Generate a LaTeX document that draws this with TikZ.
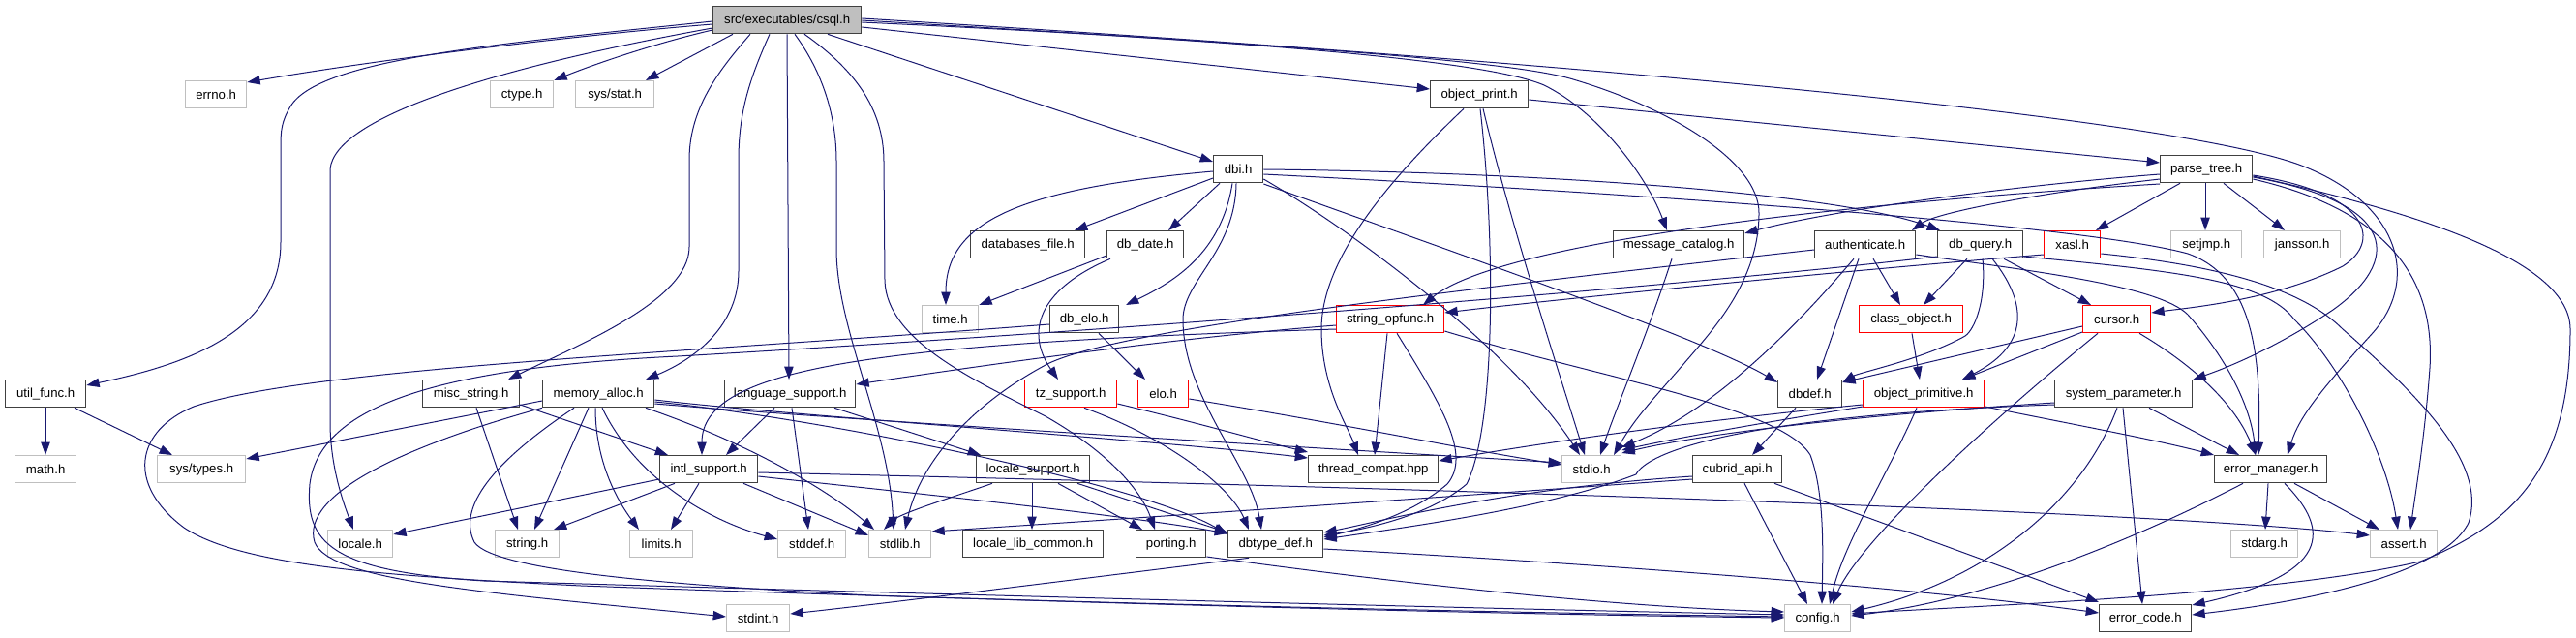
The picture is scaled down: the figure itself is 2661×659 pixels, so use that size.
\documentclass[tikz,border=0pt]{standalone}
\usepackage{fontspec}
\setmainfont{Liberation Sans}
\usetikzlibrary{arrows.meta}
\definecolor{navy}{HTML}{191970}
\definecolor{bd}{HTML}{404040}
\definecolor{gb}{HTML}{BFBFBF}
\definecolor{rb}{HTML}{FF0000}
\newcommand\nd[6]{\node[#1,minimum width={(#5-#4)*0.75pt}] (#2) at (#4,#3) {#6};}
\tikzset{
  box/.style={draw=bd, line width=1pt, inner sep=0pt, minimum height=21pt, anchor=north west, font=\fontsize{9.9}{11}\selectfont},
  bbox/.style={box},
  gbox/.style={box, draw=gb},
  rbox/.style={box, draw=rb},
  cbox/.style={box, fill=gb},
  e/.style={draw=navy, line width=0.75pt, -{Triangle[length=10pt,width=7pt]}}
}
\begin{document}
\begin{tikzpicture}[x=0.75pt,y=-0.75pt]
\useasboundingbox (0,0) rectangle (2661,659);
% row 1
\nd{cbox}{csql}{6}{736}{889}{src/executables/csql.h}
% row 2
\nd{gbox}{errno}{83}{191}{254}{errno.h}
\nd{gbox}{ctype}{83}{506}{571}{ctype.h}
\nd{gbox}{sysstat}{83}{594}{675}{sys/stat.h}
\nd{bbox}{objprint}{83}{1477}{1578}{object\_print.h}
% row 3
\nd{bbox}{dbi}{160}{1253}{1304}{dbi.h}
\nd{bbox}{parsetree}{160}{2231}{2326}{parse\_tree.h}
% row 4
\nd{bbox}{dbfile}{238}{1002}{1120}{databases\_file.h}
\nd{bbox}{dbdate}{238}{1143}{1222}{db\_date.h}
\nd{bbox}{msgcat}{238}{1666}{1801}{message\_catalog.h}
\nd{bbox}{auth}{238}{1874}{1978}{authenticate.h}
\nd{bbox}{dbquery}{238}{2001}{2089}{db\_query.h}
\nd{rbox}{xasl}{238}{2111}{2169}{xasl.h}
\nd{gbox}{setjmp}{238}{2242}{2315}{setjmp.h}
\nd{gbox}{jansson}{238}{2338}{2417}{jansson.h}
% row 5
\nd{gbox}{time}{315}{952}{1010}{time.h}
\nd{bbox}{dbelo}{315}{1084}{1155}{db\_elo.h}
\nd{rbox}{stropfunc}{315}{1380}{1491}{string\_opfunc.h}
\nd{rbox}{classobj}{315}{1920}{2027}{class\_object.h}
\nd{rbox}{cursor}{315}{2151}{2221}{cursor.h}
% row 6
\nd{bbox}{utilfunc}{392}{5}{88}{util\_func.h}
\nd{bbox}{miscstr}{392}{436}{536}{misc\_string.h}
\nd{bbox}{memalloc}{392}{560}{675}{memory\_alloc.h}
\nd{bbox}{langsup}{392}{748}{883}{language\_support.h}
\nd{rbox}{tzsup}{392}{1058}{1153}{tz\_support.h}
\nd{rbox}{elo}{392}{1175}{1227}{elo.h}
\nd{bbox}{dbdef}{392}{1836}{1902}{dbdef.h}
\nd{rbox}{objprim}{392}{1924}{2049}{object\_primitive.h}
\nd{bbox}{syspar}{392}{2122}{2264}{system\_parameter.h}
% row 7
\nd{gbox}{math}{470}{15}{78}{math.h}
\nd{gbox}{systypes}{470}{162}{253}{sys/types.h}
\nd{bbox}{intlsup}{470}{681}{782}{intl\_support.h}
\nd{bbox}{localesup}{470}{1008}{1125}{locale\_support.h}
\nd{bbox}{threadc}{470}{1351}{1485}{thread\_compat.hpp}
\nd{gbox}{stdio}{470}{1613}{1674}{stdio.h}
\nd{bbox}{cubridapi}{470}{1748}{1840}{cubrid\_api.h}
\nd{bbox}{errmgr}{470}{2287}{2403}{error\_manager.h}
% row 8
\nd{gbox}{localeh}{547}{338}{405}{locale.h}
\nd{gbox}{string}{547}{511}{577}{string.h}
\nd{gbox}{limits}{547}{650}{715}{limits.h}
\nd{gbox}{stddef}{547}{803}{873}{stddef.h}
\nd{gbox}{stdlib}{547}{897}{961}{stdlib.h}
\nd{bbox}{localelib}{547}{994}{1139}{locale\_lib\_common.h}
\nd{bbox}{porting}{547}{1173}{1245}{porting.h}
\nd{bbox}{dbtype}{547}{1268}{1366}{dbtype\_def.h}
\nd{gbox}{stdarg}{547}{2304}{2373}{stdarg.h}
\nd{gbox}{assert}{547}{2448}{2517}{assert.h}
% row 9
\nd{gbox}{stdint}{624}{750}{815}{stdint.h}
\nd{gbox}{config}{624}{1843}{1911}{config.h}
\nd{bbox}{errcode}{624}{2168}{2263}{error\_code.h}

% ---------- edges from csql
\draw[e] (csql.west |- 0,25) .. controls (600,36) and (400,60) .. (errno.east |- 0,85);
\draw[e] (csql.west |- 0,31) .. controls (680,44) and (620,64) .. (ctype.north east);
\draw[e] (csql.south -| 757,0) -- (sysstat.north -| 667,0);
\draw[e] (csql.west |- 0,22) .. controls (520,45) and (330,60) .. (300,110) .. controls (291,125) and (290,135) .. (290,150) -- (290,250) .. controls (290,340) and (200,375) .. (utilfunc.east |- 0,398);
\draw[e] (csql.west |- 0,29) .. controls (520,68) and (345,120) .. (341,175) -- (341,440) .. controls (342,485) and (355,520) .. (localeh.north -| 365,0);
\draw[e] (csql.south -| 775,0) .. controls (745,70) and (712,110) .. (712,165) -- (712,255) .. controls (712,310) and (600,355) .. (miscstr.north -| 525,0);
\draw[e] (csql.south -| 795,0) .. controls (775,80) and (763,115) .. (763,165) -- (763,280) .. controls (763,335) and (720,370) .. (memalloc.north -| 667,0);
\draw[e] (csql.south -| 813,0) -- (langsup.north -| 815,0);
\draw[e] (csql.south -| 821,0) .. controls (850,75) and (864,120) .. (864,167) -- (864,257) .. controls (864,340) and (918,440) .. (stdlib.north -| 923,0);
\draw[e] (csql.south -| 831,0) .. controls (880,70) and (913,110) .. (913,167) -- (914,290) .. controls (916,350) and (1000,390) .. (1080,430) .. controls (1150,470) and (1180,510) .. (porting.north -| 1193,0);
\draw[e] (csql.south -| 855,0) -- (dbi.west |- 0,167);
\draw[e] (csql.east |- 0,28) -- (objprint.west |- 0,92);
\draw[e] (csql.east |- 0,23) .. controls (1250,40) and (1530,60) .. (1595,88) .. controls (1650,115) and (1700,180) .. (msgcat.north -| 1722,0);
\draw[e] (csql.east |- 0,21) .. controls (1300,45) and (1560,62) .. (1625,82) .. controls (1720,110) and (1817,165) .. (1817,220) .. controls (1817,290) and (1770,340) .. (1740,375) .. controls (1710,410) and (1690,430) .. (stdio.north -| 1667,0);
\draw[e] (csql.east |- 0,19) .. controls (1600,62) and (2250,120) .. (2380,172) .. controls (2480,212) and (2500,290) .. (2450,345) .. controls (2400,400) and (2375,430) .. (errmgr.north -| 2363,0);
% ---------- object_print
\draw[e] (objprint.east |- 0,103) -- (parsetree.west |- 0,168);
\draw[e] (objprint.south -| 1512,0) .. controls (1430,190) and (1365,270) .. (1365,340) .. controls (1365,400) and (1392,440) .. (threadc.north -| 1403,0);
\draw[e] (objprint.south -| 1532,0) .. controls (1560,230) and (1612,390) .. (stdio.north -| 1637,0);
\draw[e] (objprint.south -| 1529,0) .. controls (1545,250) and (1545,440) .. (1515,500) .. controls (1480,530) and (1420,545) .. (dbtype.east |- 0,553);
% ---------- dbi
\draw[e] (dbi.west |- 0,177) .. controls (1050,195) and (977,230) .. (time.north -| 977,0);
\draw[e] (dbi.west |- 0,184) -- (dbfile.north -| 1110,0);
\draw[e] (dbi.south -| 1260,0) -- (dbdate.north -| 1207,0);
\draw[e] (dbi.south -| 1273,0) .. controls (1262,260) and (1215,290) .. (dbelo.north -| 1163,0);
\draw[e] (dbi.south -| 1277,0) .. controls (1276,260) and (1222,290) .. (1222,330) .. controls (1222,410) and (1292,480) .. (dbtype.north -| 1303,0);
\draw[e] (dbi.east |- 0,185) .. controls (1400,240) and (1560,360) .. (stdio.north -| 1632,0);
\draw[e] (dbi.east |- 0,190) .. controls (1500,260) and (1760,350) .. (dbdef.west |- 0,395);
\draw[e] (dbi.east |- 0,175) .. controls (1600,178) and (1900,200) .. (dbquery.north -| 2004,0);
\draw[e] (dbi.east |- 0,180) .. controls (1700,200) and (2150,232) .. (2260,262) .. controls (2325,285) and (2336,360) .. (errmgr.north -| 2333,0);
% ---------- db_date, db_elo
\draw[e] (dbdate.west |- 0,264) -- (time.north east);
\draw[e] (dbdate.south -| 1147,0) .. controls (1070,300) and (1060,345) .. (tzsup.north -| 1093,0);
\draw[e] (dbelo.south -| 1135,0) -- (elo.north -| 1183,0);
\draw[e] (dbelo.west |- 0,335) .. controls (700,365) and (320,380) .. (200,420) .. controls (140,445) and (130,500) .. (190,545) .. controls (250,585) and (400,595) .. (600,605) .. controls (1000,620) and (1500,632) .. (config.west |- 0,637);
% ---------- memory_alloc
\draw[e] (memalloc.west |- 0,414) -- (systypes.east |- 0,474);
\draw[e] (memalloc.south west) .. controls (420,460) and (310,510) .. (325,560) .. controls (340,600) and (500,612) .. (stdint.west |- 0,637);
\draw[e] (memalloc.south -| 593,0) .. controls (520,470) and (470,520) .. (490,560) .. controls (510,590) and (700,605) .. (900,615) .. controls (1300,628) and (1650,636) .. (config.west |- 0,638);
\draw[e] (memalloc.south -| 608,0) -- (string.north -| 552,0);
\draw[e] (memalloc.south -| 615,0) .. controls (615,480) and (640,520) .. (limits.north -| 660,0);
\draw[e] (memalloc.south -| 622,0) .. controls (660,500) and (740,540) .. (stddef.west |- 0,557);
\draw[e] (memalloc.south -| 667,0) .. controls (780,460) and (860,510) .. (stdlib.north -| 903,0);
\draw[e] (memalloc.east |- 0,413) .. controls (800,428) and (1200,455) .. (threadc.west |- 0,473);
\draw[e] (memalloc.east |- 0,415) .. controls (850,432) and (1180,500) .. (dbtype.west |- 0,552);
\draw[e] (memalloc.east |- 0,417) .. controls (900,436) and (1400,465) .. (stdio.west |- 0,478);
% ---------- misc_string, util_func
\draw[e] (miscstr.south -| 492,0) -- (string.north -| 535,0);
\draw[e] (miscstr.east |- 0,418) -- (intlsup.north -| 690,0);
\draw[e] (utilfunc.south -| 47,0) -- (math.north -| 47,0);
\draw[e] (utilfunc.south -| 77,0) -- (systypes.north -| 178,0);
% ---------- language_support
\draw[e] (langsup.south -| 800,0) -- (intlsup.north -| 750,0);
\draw[e] (langsup.south -| 818,0) -- (stddef.north -| 835,0);
\draw[e] (langsup.south -| 862,0) -- (localesup.north -| 1013,0);
% ---------- intl_support
\draw[e] (intlsup.west |- 0,495) -- (localeh.east |- 0,552);
\draw[e] (intlsup.south -| 697,0) -- (string.north -| 572,0);
\draw[e] (intlsup.south -| 722,0) -- (limits.north -| 693,0);
\draw[e] (intlsup.south -| 768,0) -- (stdlib.west |- 0,553);
\draw[e] (intlsup.east |- 0,488) .. controls (1300,500) and (2200,525) .. (assert.west |- 0,553);
\draw[e] (intlsup.east |- 0,492) .. controls (900,505) and (1150,530) .. (dbtype.west |- 0,551);
% ---------- locale_support
\draw[e] (localesup.south -| 1025,0) .. controls (980,515) and (930,530) .. (stdlib.north -| 913,0);
\draw[e] (localesup.south -| 1066,0) -- (localelib.north -| 1066,0);
\draw[e] (localesup.south -| 1093,0) -- (porting.north -| 1180,0);
\draw[e] (localesup.south -| 1113,0) -- (dbtype.west |- 0,550);
% ---------- tz_support, elo, porting, dbtype_def
\draw[e] (tzsup.south -| 1120,0) .. controls (1200,450) and (1270,500) .. (dbtype.north -| 1290,0);
\draw[e] (tzsup.east |- 0,417) .. controls (1250,440) and (1300,455) .. (threadc.west |- 0,467);
\draw[e] (elo.east |- 0,412) .. controls (1400,440) and (1500,462) .. (stdio.west |- 0,480);
\draw[e] (porting.east |- 0,575) .. controls (1500,610) and (1700,628) .. (config.west |- 0,632);
\draw[e] (dbtype.south -| 1290,0) .. controls (1100,600) and (900,625) .. (stdint.east |- 0,634);
\draw[e] (dbtype.east |- 0,567) .. controls (1700,585) and (2000,610) .. (errcode.west |- 0,633);
% ---------- string_opfunc
\draw[e] (stropfunc.south -| 1433,0) -- (threadc.north -| 1420,0);
\draw[e] (stropfunc.south -| 1443,0) .. controls (1490,420) and (1520,470) .. (1495,500) .. controls (1460,530) and (1410,545) .. (dbtype.east |- 0,555);
\draw[e] (stropfunc.west |- 0,336) .. controls (1200,350) and (1000,380) .. (langsup.east |- 0,397);
\draw[e] (stropfunc.west |- 0,340) .. controls (900,355) and (725,380) .. (intlsup.north -| 725,0);
\draw[e] (stropfunc.east |- 0,342) .. controls (1650,390) and (1840,420) .. (1870,470) .. controls (1885,510) and (1883,570) .. (config.north -| 1882,0);
% ---------- authenticate
\draw[e] (auth.south -| 1935,0) -- (classobj.north -| 1963,0);
\draw[e] (auth.south -| 1920,0) -- (dbdef.north -| 1877,0);
\draw[e] (auth.south -| 1915,0) .. controls (1870,320) and (1780,420) .. (stdio.east |- 0,462);
\draw[e] (auth.west |- 0,258) .. controls (1500,300) and (1150,340) .. (1080,377) .. controls (1000,420) and (950,480) .. (stdlib.north -| 935,0);
\draw[e] (auth.east |- 0,263) .. controls (2100,280) and (2230,295) .. (2260,325) .. controls (2300,370) and (2325,420) .. (errmgr.north -| 2330,0);
% ---------- db_query
\draw[e] (dbquery.south -| 2032,0) -- (classobj.north -| 1987,0);
\draw[e] (dbquery.south -| 2070,0) -- (cursor.north -| 2160,0);
\draw[e] (dbquery.south -| 2048,0) .. controls (2052,310) and (2040,340) .. (2030,347) .. controls (1990,370) and (1920,385) .. (dbdef.east |- 0,395);
\draw[e] (dbquery.south -| 2058,0) .. controls (2100,320) and (2090,360) .. (objprim.north -| 2027,0);
\draw[e] (dbquery.east |- 0,265) .. controls (2250,280) and (2340,290) .. (2370,330) .. controls (2420,380) and (2465,470) .. (assert.north -| 2477,0);
\draw[e] (dbquery.west |- 0,265) .. controls (1700,300) and (1100,345) .. (700,368) .. controls (450,380) and (330,420) .. (320,500) .. controls (315,560) and (340,590) .. (500,600) .. controls (900,612) and (1500,628) .. (config.west |- 0,635);
% ---------- xasl
\draw[e] (xasl.west |- 0,263) .. controls (1900,280) and (1600,310) .. (stropfunc.east |- 0,323);
\draw[e] (xasl.east |- 0,262) .. controls (2300,275) and (2380,300) .. (2420,340) .. controls (2500,410) and (2570,480) .. (2550,540) .. controls (2520,600) and (2350,625) .. (errcode.east |- 0,635);
% ---------- class_object, cursor
\draw[e] (classobj.south -| 1975,0) -- (objprim.north -| 1983,0);
\draw[e] (cursor.west |- 0,337) -- (dbdef.east |- 0,395);
\draw[e] (cursor.west |- 0,343) -- (objprim.north -| 2027,0);
\draw[e] (cursor.south -| 2167,0) .. controls (2050,440) and (1920,560) .. (config.north -| 1893,0);
\draw[e] (cursor.south -| 2210,0) .. controls (2270,380) and (2310,420) .. (errmgr.north -| 2330,0);
% ---------- object_primitive
\draw[e] (objprim.west |- 0,418) .. controls (1700,440) and (1550,465) .. (threadc.east |- 0,476);
\draw[e] (objprim.west |- 0,420) .. controls (1800,440) and (1720,455) .. (stdio.east |- 0,465);
\draw[e] (objprim.south -| 1980,0) .. controls (1950,490) and (1905,560) .. (config.north -| 1890,0);
\draw[e] (objprim.east |- 0,420) .. controls (2150,440) and (2230,455) .. (errmgr.west |- 0,470);
% ---------- dbdef, cubrid_api
\draw[e] (dbdef.south -| 1855,0) -- (cubridapi.north -| 1810,0);
\draw[e] (cubridapi.south -| 1802,0) -- (config.north -| 1867,0);
\draw[e] (cubridapi.south -| 1833,0) -- (errcode.west |- 0,622);
\draw[e] (cubridapi.west |- 0,492) .. controls (1550,505) and (1420,540) .. (dbtype.east |- 0,550);
\draw[e] (cubridapi.west |- 0,495) .. controls (1400,520) and (1100,540) .. (stdlib.east |- 0,549);
% ---------- system_parameter
\draw[e] (syspar.south -| 2220,0) -- (errmgr.north -| 2313,0);
\draw[e] (syspar.south -| 2193,0) -- (errcode.north -| 2213,0);
\draw[e] (syspar.south -| 2187,0) .. controls (2150,520) and (2050,600) .. (config.east |- 0,632);
\draw[e] (syspar.west |- 0,416) .. controls (1900,430) and (1750,450) .. (stdio.east |- 0,468);
\draw[e] (syspar.west |- 0,418) .. controls (1780,430) and (1700,470) .. (1690,490) .. controls (1600,525) and (1450,545) .. (dbtype.east |- 0,557);
% ---------- error_manager
\draw[e] (errmgr.south -| 2343,0) -- (stdarg.north -| 2340,0);
\draw[e] (errmgr.south -| 2370,0) -- (assert.north -| 2458,0);
\draw[e] (errmgr.south -| 2360,0) .. controls (2400,540) and (2420,590) .. (errcode.east |- 0,625);
\draw[e] (errmgr.south -| 2317,0) .. controls (2200,560) and (2050,620) .. (config.east |- 0,636);
% ---------- message_catalog
\draw[e] (msgcat.south -| 1727,0) .. controls (1700,350) and (1670,420) .. (stdio.north -| 1653,0);
% ---------- parse_tree
\draw[e] (parsetree.south -| 2278,0) -- (setjmp.north -| 2278,0);
\draw[e] (parsetree.south -| 2297,0) -- (jansson.north -| 2360,0);
\draw[e] (parsetree.south -| 2252,0) -- (xasl.north -| 2165,0);
\draw[e] (parsetree.west |- 0,180) .. controls (2100,190) and (1900,215) .. (msgcat.east |- 0,241);
\draw[e] (parsetree.west |- 0,185) .. controls (2100,200) and (2000,220) .. (auth.north -| 1975,0);
\draw[e] (parsetree.west |- 0,190) .. controls (1900,210) and (1550,250) .. (stropfunc.north -| 1470,0);
\draw[e] (parsetree.east |- 0,181) .. controls (2450,200) and (2460,250) .. (2420,275) .. controls (2350,310) and (2260,318) .. (cursor.east |- 0,323);
\draw[e] (parsetree.east |- 0,183) .. controls (2480,210) and (2480,270) .. (2410,320) .. controls (2350,360) and (2300,380) .. (syspar.north east);
\draw[e] (parsetree.east |- 0,185) .. controls (2480,220) and (2515,300) .. (2510,380) .. controls (2505,450) and (2495,510) .. (assert.north -| 2490,0);
\draw[e] (parsetree.east |- 0,182) .. controls (2500,220) and (2655,270) .. (2655,340) .. controls (2655,480) and (2600,540) .. (2500,580) .. controls (2350,615) and (2050,625) .. (config.east |- 0,634);
\end{tikzpicture}
\end{document}
